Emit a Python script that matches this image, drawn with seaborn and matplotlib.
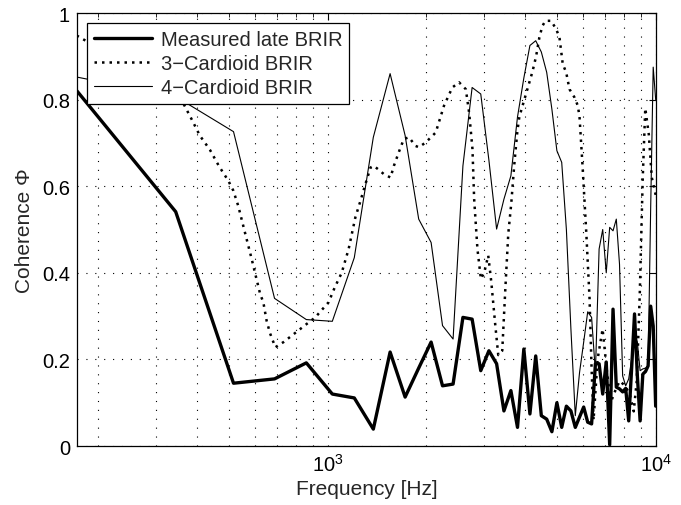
import numpy as np
import pandas as pd
import matplotlib
matplotlib.use('Agg')
import matplotlib.pyplot as plt
import matplotlib.ticker as mticker
import seaborn as sns

# style: plain white, matlab-like
sns.set_theme(style="white")
plt.rcParams['font.family'] = ['Liberation Sans', 'DejaVu Sans']
plt.rcParams['mathtext.fontset'] = 'custom'
plt.rcParams['mathtext.rm'] = 'Liberation Sans'

# frequency bins (Hz) of measured and 4-cardioid curves
freq = [172.3, 344.5, 516.8, 689.1, 861.3, 1033.6, 1205.9, 1378.1, 1550.4, 1722.7,
        1894.9, 2067.2, 2239.5, 2411.7, 2584.0, 2756.3, 2928.5, 3100.8, 3273.0, 3445.3,
        3617.6, 3789.8, 3962.1, 4134.4, 4306.6, 4478.9, 4651.2, 4823.4, 4995.7, 5168.0,
        5340.2, 5512.5, 5684.8, 5857.0, 6029.3, 6201.6, 6373.8, 6546.1, 6718.4, 6890.6,
        7062.9, 7235.2, 7407.4, 7579.7, 7752.0, 7924.2, 8096.5, 8268.8, 8441.0, 8613.3,
        8785.5, 8957.8, 9130.1, 9302.3, 9474.6, 9646.9, 9819.1, 9991.4]

measured = [0.82, 0.541, 0.145, 0.155, 0.192, 0.12, 0.111, 0.039, 0.217, 0.113,
            0.18, 0.24, 0.139, 0.143, 0.297, 0.293, 0.174, 0.22, 0.19, 0.081,
            0.128, 0.043, 0.224, 0.074, 0.208, 0.07, 0.062, 0.033, 0.1, 0.043,
            0.092, 0.081, 0.043, 0.067, 0.09, 0.055, 0.051, 0.19, 0.19, 0.12,
            0.194, 0.003, 0.316, 0.136, 0.132, 0.125, 0.133, 0.058, 0.18, 0.305,
            0.162, 0.058, 0.166, 0.172, 0.185, 0.323, 0.277, 0.092]

card4 = [0.852, 0.807, 0.726, 0.341, 0.292, 0.288, 0.435, 0.713, 0.86, 0.717,
         0.524, 0.47, 0.278, 0.247, 0.647, 0.828, 0.813, 0.66, 0.501, 0.57,
         0.624, 0.76, 0.85, 0.925, 0.936, 0.91, 0.863, 0.778, 0.682, 0.655,
         0.50, 0.27, 0.07, 0.17, 0.24, 0.31, 0.297, 0.17, 0.455, 0.50,
         0.40, 0.505, 0.497, 0.524, 0.42, 0.162, 0.139, 0.155, 0.20, 0.255,
         0.24, 0.174, 0.178, 0.18, 0.185, 0.55, 0.875, 0.80]

# 3-cardioid curve is finer sampled
freq3 = [172, 246, 363, 385, 408, 438, 467, 498, 516, 534,
         560, 587, 604, 623, 637, 652, 668, 693, 734, 778,
         864, 917, 957, 1007, 1051, 1104, 1159, 1215, 1259, 1304,
         1351, 1382, 1432, 1483, 1555, 1592, 1669, 1708, 1769, 1854,
         1897, 1990, 2135, 2263, 2399, 2515, 2637, 2699, 2763, 2796,
         2861, 2931, 3000, 3086, 3152, 3242, 3311, 3405, 3478, 3552,
         3627, 3705, 3784, 3838, 3976, 4119, 4207, 4318, 4419, 4513,
         4609, 4797, 4969, 5086, 5206, 5332, 5458, 5653, 5786, 5856,
         5981, 6139, 6283, 6372, 6462, 6646, 6884, 7081, 7284, 7545,
         7760, 8039, 8327, 8565, 8748, 8935, 9125, 9288, 9519, 9723,
         9991]
card3 = [0.948, 0.88, 0.792, 0.755, 0.717, 0.684, 0.646, 0.613, 0.59, 0.555,
         0.493, 0.432, 0.393, 0.351, 0.332, 0.289, 0.26, 0.228, 0.24, 0.255,
         0.282, 0.297, 0.313, 0.332, 0.366, 0.40, 0.455, 0.528, 0.566, 0.605,
         0.643, 0.647, 0.638, 0.628, 0.62, 0.647, 0.69, 0.709, 0.713, 0.693,
         0.69, 0.701, 0.724, 0.786, 0.828, 0.84, 0.824, 0.77, 0.686, 0.57,
         0.455, 0.386, 0.40, 0.44, 0.38, 0.28, 0.21, 0.22, 0.36, 0.49,
         0.56, 0.65, 0.725, 0.76, 0.80, 0.84, 0.864, 0.90, 0.944, 0.97,
         0.982, 0.982, 0.963, 0.944, 0.882, 0.863, 0.824, 0.805, 0.786, 0.76,
         0.647, 0.494, 0.34, 0.18, 0.06, 0.20, 0.27, 0.18, 0.10, 0.13,
         0.15, 0.14, 0.12, 0.08, 0.15, 0.35, 0.62, 0.78, 0.72, 0.62,
         0.58]

df = pd.DataFrame({'freq': freq, 'measured': measured, 'card4': card4})
df3 = pd.DataFrame({'freq': freq3, 'card3': card3})

fig = plt.figure(figsize=(6.81, 5.06), dpi=100)
ax = fig.add_axes([0.113, 0.1166, 0.850, 0.8557])

sns.lineplot(data=df, x='freq', y='measured', ax=ax, color='black', linewidth=2.4,
             estimator=None, sort=False, label='Measured late BRIR')
sns.lineplot(data=df3, x='freq', y='card3', ax=ax, color='black', linewidth=1.8,
             linestyle=(0, (1, 2)), estimator=None, sort=False, label='3\u2212Cardioid BRIR')
sns.lineplot(data=df, x='freq', y='card4', ax=ax, color='black', linewidth=0.8,
             estimator=None, sort=False, label='4\u2212Cardioid BRIR')

ax.set_xscale('log')
ax.set_xlim(freq[0], 10000)
ax.set_ylim(0, 1)
ax.set_yticks([0, 0.2, 0.4, 0.6, 0.8, 1])
ax.set_yticklabels(['0', '0.2', '0.4', '0.6', '0.8', '1'])
ax.xaxis.set_major_locator(mticker.LogLocator(base=10, numticks=5))
ax.xaxis.set_minor_locator(mticker.LogLocator(base=10, subs=np.arange(2, 10), numticks=20))
ax.xaxis.set_minor_formatter(mticker.NullFormatter())

grid_ls = (0, (1, 7))
ax.grid(True, which='major', axis='both', color='black', linestyle=grid_ls, linewidth=0.8)
ax.grid(True, which='minor', axis='x', color='black', linestyle=grid_ls, linewidth=0.8)

ax.tick_params(axis='both', which='both', direction='in', top=True, right=True,
               labelsize=14.5, colors='black')
ax.tick_params(which='major', length=5, width=0.8, pad=5)
ax.tick_params(which='minor', length=3, width=0.6)
for s in ax.spines.values():
    s.set_color('black')
    s.set_linewidth(0.9)

ax.set_xlabel('Frequency [Hz]', fontsize=15, labelpad=3)
ax.set_ylabel('Coherence \u03a6', fontsize=15, labelpad=6)

leg = ax.legend(loc='upper left', fontsize=14.5, frameon=True, fancybox=False,
                edgecolor='black', framealpha=1, borderaxespad=0.5,
                handlelength=2.9, handletextpad=0.4, borderpad=0.35, labelspacing=0.25)
leg.get_frame().set_linewidth(0.9)

fig.savefig('out.png', dpi=100)
